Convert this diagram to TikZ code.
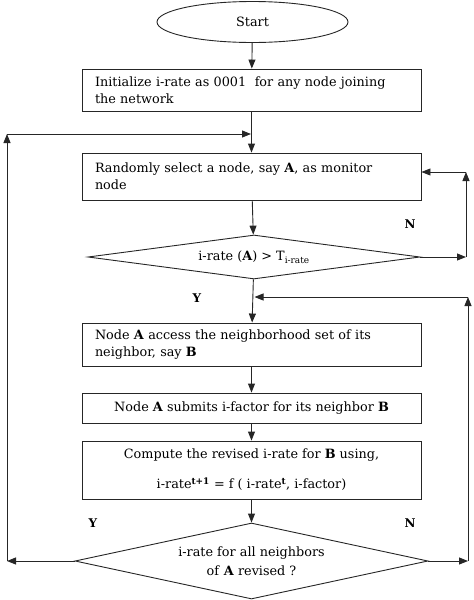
\documentclass[tikz,border=0pt]{standalone}
\usepackage{fontspec}
\setmainfont{DejaVu Serif}
\usetikzlibrary{shapes.geometric,arrows.meta}
\begin{document}
\begin{tikzpicture}[x=1pt,y=-1pt,
  line width=0.9pt,
  font=\fontsize{12.8}{17}\selectfont,
  proc/.style={draw=black!85,rectangle,minimum width=339pt,inner sep=0pt,align=left,text width=313pt},
  procc/.style={draw=black!85,rectangle,minimum width=339pt,inner sep=0pt,align=center},
  dec/.style={draw=black!85,diamond,inner sep=0pt,align=center},
  lab/.style={font=\fontsize{12}{12}\selectfont\bfseries,inner sep=0pt},
  arr/.style={draw=black!85,-{Triangle[length=9pt,width=7pt]}}]
\useasboundingbox (0,0) rectangle (474,600);
\node[draw=black!85,ellipse,minimum width=191pt,minimum height=41pt,inner sep=0pt] (start) at (252.5,22) {Start};
\node[proc,minimum height=42pt] (init) at (251.5,90) {Initialize i-rate as 0001 \ for any node joining\\the network};
\node[proc,minimum height=47pt] (sel) at (251.5,176.5) {Randomly select a node, say \textbf{A}, as monitor\\node};
\node[dec,minimum width=332pt,minimum height=44pt,shape aspect=7.5] (d1) at (254,257) {i-rate (\textbf{A}) > T\textsubscript{i-rate}};
\node[proc,minimum height=43pt] (acc) at (251.5,344.5) {Node \textbf{A} access the neighborhood set of its\\neighbor, say \textbf{B}};
\node[procc,minimum height=30pt] (sub) at (251.5,408) {Node \textbf{A} submits i-factor for its neighbor \textbf{B}};
\node[procc,minimum height=58pt] (comp) at (251.5,470) {Compute the revised i-rate for \textbf{B} using,\\[13pt]i-rate\textsuperscript{\textbf{t+1}} = f ( i-rate\textsuperscript{\textbf{t}}, i-factor)};
\node[dec,minimum width=353pt,minimum height=76pt,shape aspect=4.6,font=\fontsize{12.8}{19}\selectfont] (d2) at (251.5,561) {i-rate for all neighbors\\of \textbf{A} revised ?};
\coordinate (L1) at (7,561);
\coordinate (L2) at (7,134);
\coordinate (R1) at (466,257);
\coordinate (R2) at (466,172);
\coordinate (R4) at (468,561);
\coordinate (R3) at (468,297);
\node[lab] (n1) at (410,224) {N};
\node[lab] (y1) at (197,298) {Y};
\node[lab] (y2) at (93,523) {Y};
\node[lab] (n2) at (410,523) {N};
\draw[arr] (start) -- (init);
\draw[arr] (init) -- (sel);
\draw[arr] (sel) -- (d1);
\draw[arr] (d1) -- (acc);
\draw[arr] (acc) -- (sub);
\draw[arr] (sub) -- (comp);
\draw[arr] (comp) -- (d2);
\draw[arr] (d2.west) -- (L1);
\draw[arr] (L1) -- (L2);
\draw[arr] (L2) -- ([xshift=-0.5pt]init.south |- L2);
\draw[arr] (d1.east) -- (R1);
\draw[arr] (R1) -- (R2);
\draw[arr] (R2) -- (sel.east |- R2);
\draw[arr] (d2.east) -- (R4);
\draw[arr] (R4) -- (R3);
\draw[arr] (R3) -- ([xshift=0.5pt]d1.south |- R3);
\end{tikzpicture}
\end{document}
